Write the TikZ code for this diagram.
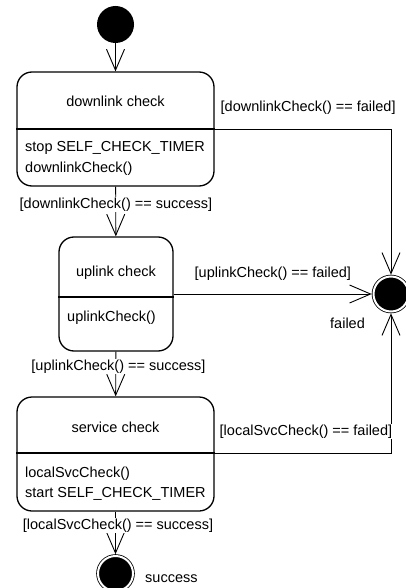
\documentclass[tikz,border=0pt]{standalone}
\usepackage{fontspec}
\setmainfont{Liberation Sans}
\usetikzlibrary{arrows.meta}
\begin{document}
\begin{tikzpicture}[x=1pt,y=-1pt]
\tikzstyle{every node}+=[inner sep=0pt, font=\fontsize{14.5pt}{20pt}\selectfont]
\tikzstyle{statebox}=[draw, rounded corners=15pt, line width=1.3pt, minimum height=114pt]
\tikzstyle{startdot}=[circle, fill=black, minimum size=37pt]
\tikzstyle{enddot}=[circle, fill=black, draw=black, line width=0.8pt, double=white, double distance=2pt, minimum size=35pt, outer sep=1.8pt]
\tikzstyle{trans}=[line width=0.9pt, -{Straight Barb[length=21pt,width=18pt]}]
\tikzstyle{guard}=[fill=white, inner sep=0.5pt]
\useasboundingbox (0,0) rectangle (406,588);
\node [startdot] (start) at (115.5,24.5) {};
\node [statebox, minimum width=197pt] (dl) at (115.5,129) {};
\node [statebox, minimum width=114pt] (ul) at (116,294) {};
\node [statebox, minimum width=197pt] (sc) at (115.5,454) {};
\node [enddot] (failed) at (391,294) {};
\node [enddot] (success) at (115.5,573.5) {};
\coordinate (dlsep) at (115.5,129);
\coordinate (ulsep) at (116,297);
\coordinate (scsep) at (115.5,453);
\draw [line width=1.1pt] (dl.west |- dlsep) -- (dl.east |- dlsep);
\draw [line width=1.1pt] (ul.west |- ulsep) -- (ul.east |- ulsep);
\draw [line width=1.1pt] (sc.west |- scsep) -- (sc.east |- scsep);
\node [anchor=base] (dltitle) at (115.5,107) {downlink check};
\node [anchor=base west] (dlstop) at (25,152) {stop SELF\_CHECK\_TIMER};
\node [anchor=base west] (dlcall) at (25,172) {downlinkCheck()};
\node [anchor=base] (ultitle) at (116,276) {uplink check};
\node [anchor=base west] (ulcall) at (67,321) {uplinkCheck()};
\node [anchor=base] (sctitle) at (115.5,432) {service check};
\node [anchor=base west] (sccall) at (25,477) {localSvcCheck()};
\node [anchor=base west] (scstart) at (25,497) {start SELF\_CHECK\_TIMER};
\draw [trans] (start) -- (dl);
\draw [trans] (dl) -- (ul);
\draw [trans] (ul) -- (sc);
\draw [trans] (sc) -- (success);
\draw [trans] (dl.east |- dlsep) -| (failed);
\draw [trans] (ul.east |- failed) -- (failed);
\draw [trans] (sc.east |- scsep) -| (failed);
\node [guard, anchor=base] (dlok) at (116,208) {[downlinkCheck() == success]};
\node [guard, anchor=base] (ulok) at (118.5,370) {[uplinkCheck() == success]};
\node [guard, anchor=base] (scok) at (118,529) {[localSvcCheck() == success]};
\node [guard, anchor=base west] (dlfail) at (220,112) {[downlinkCheck() == failed]};
\node [guard, anchor=base west] (ulfail) at (194,277) {[uplinkCheck() == failed]};
\node [guard, anchor=base west] (scfail) at (219,435) {[localSvcCheck() == failed]};
\node [anchor=base west] (failedlbl) at (330,328) {failed};
\node [anchor=base west] (successlbl) at (145,582) {success};
\end{tikzpicture}
\end{document}
